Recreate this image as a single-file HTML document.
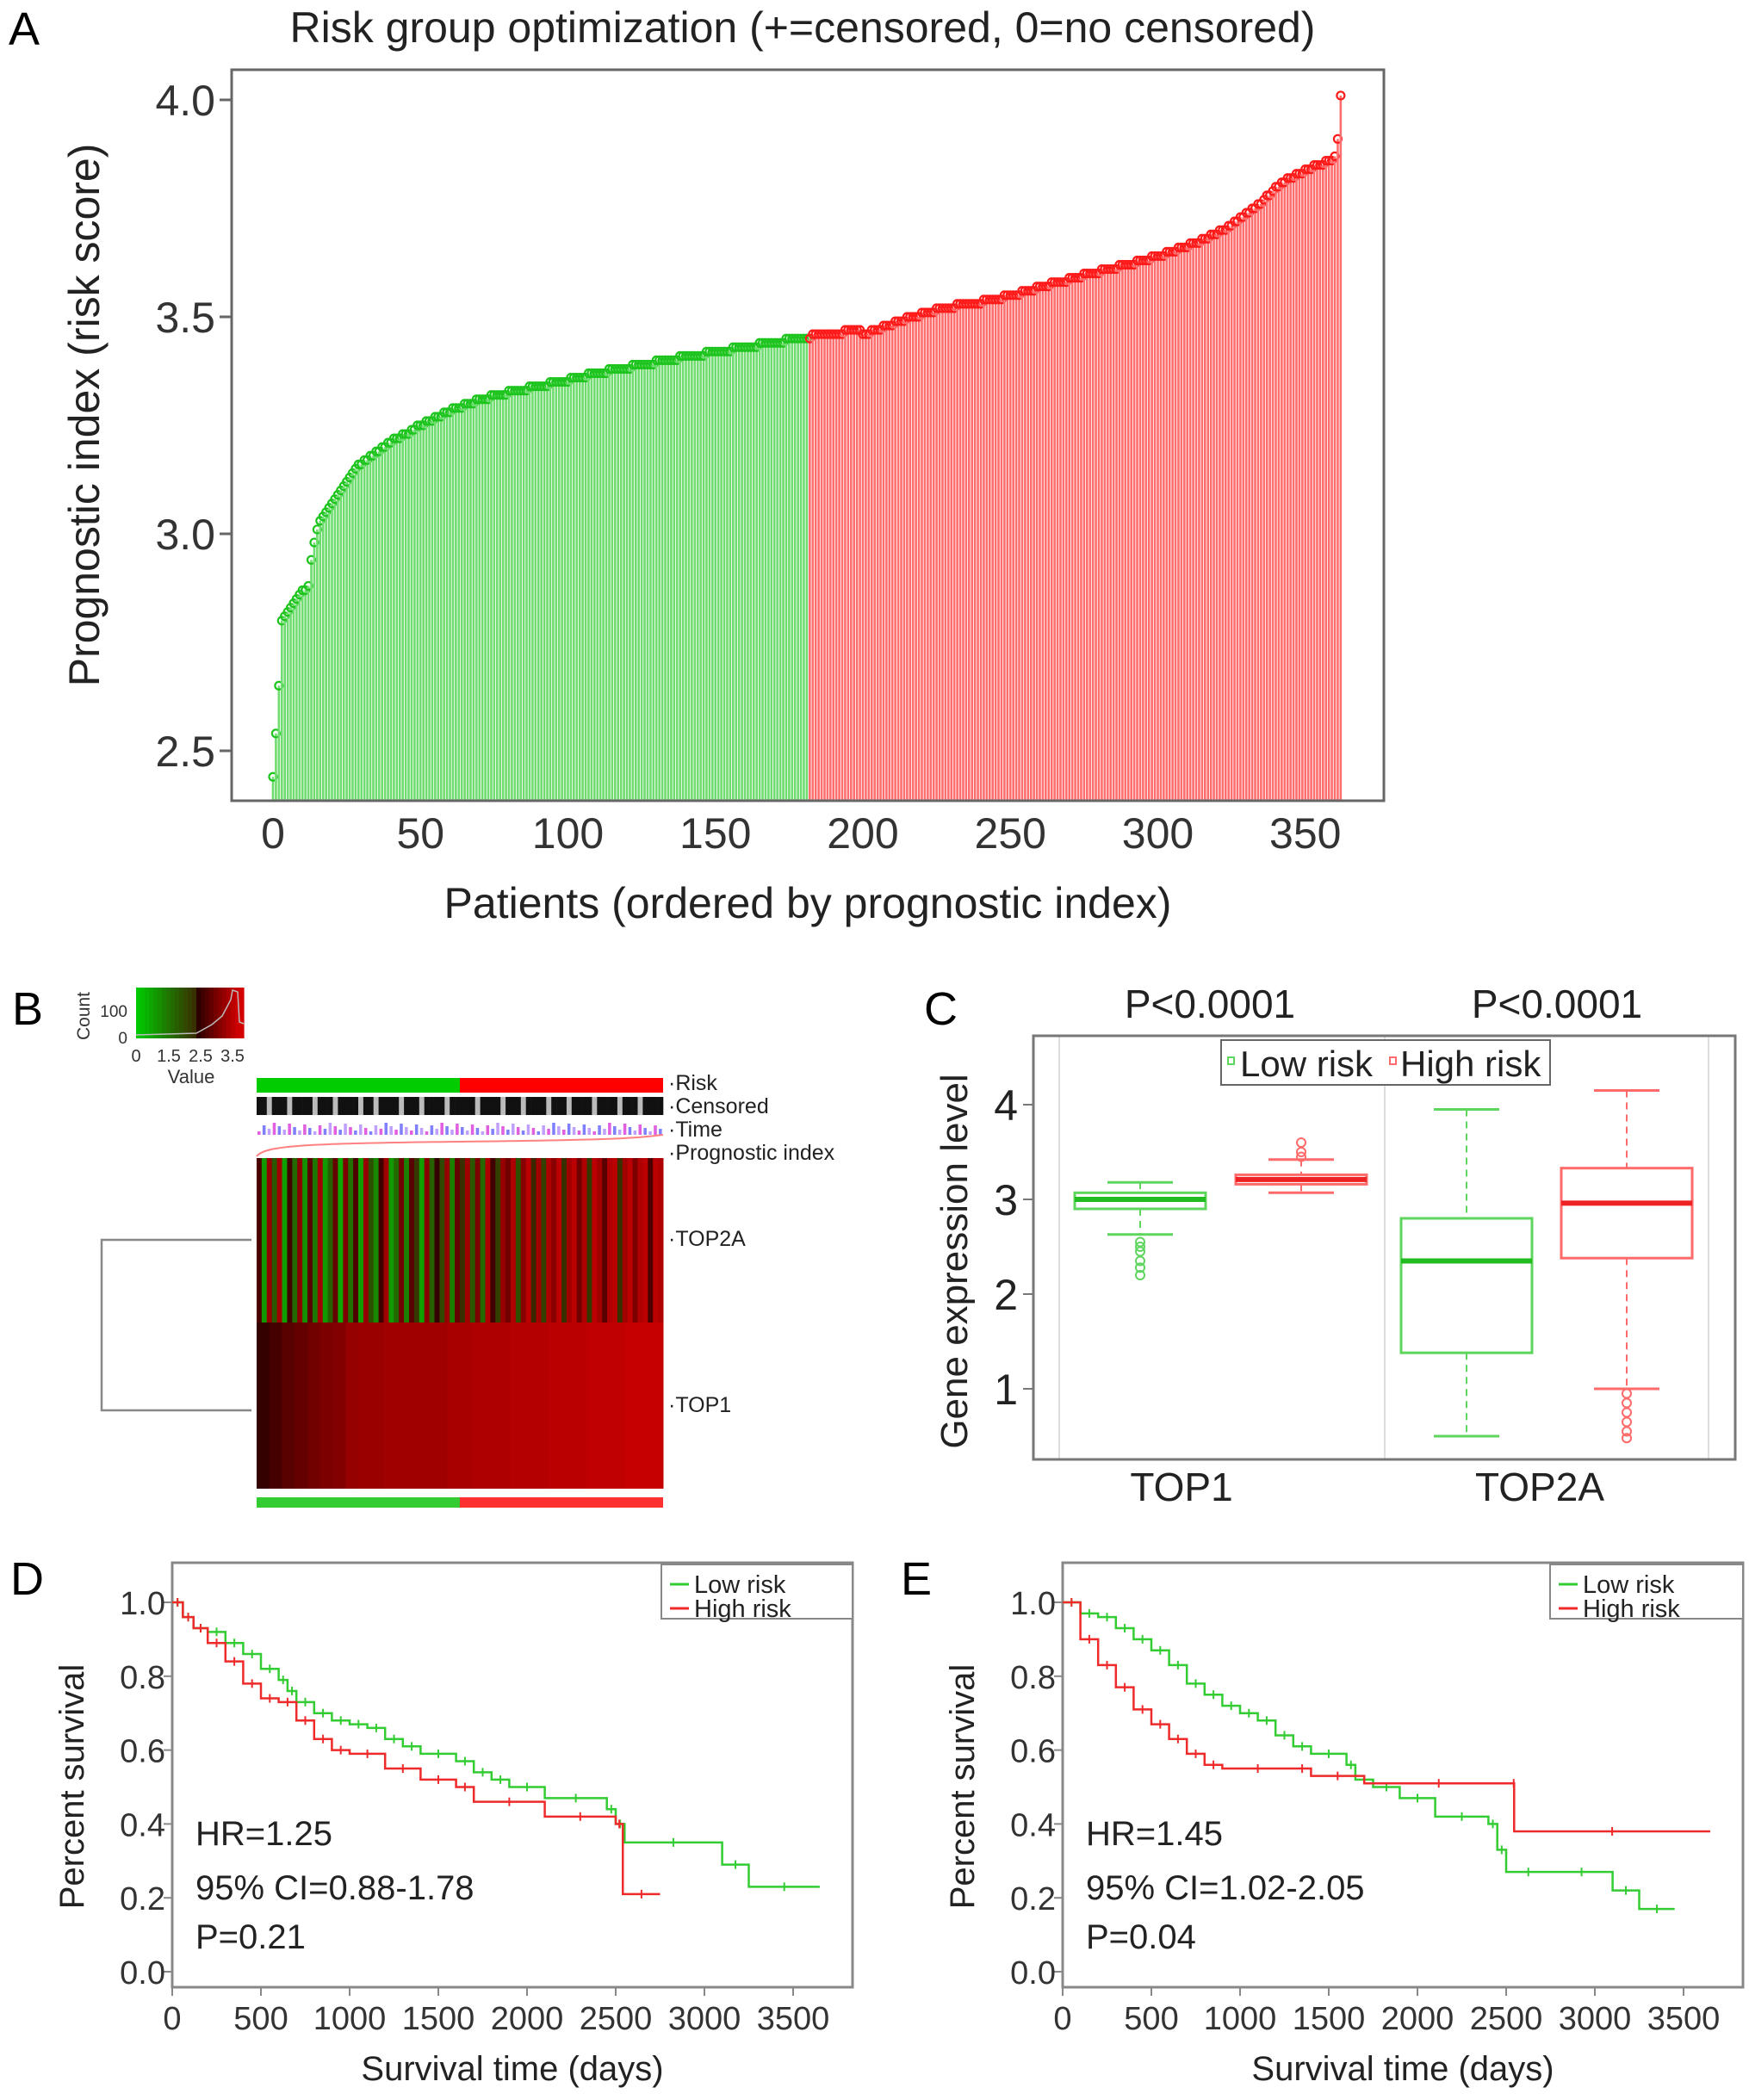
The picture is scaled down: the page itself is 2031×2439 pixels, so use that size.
<!DOCTYPE html>
<html><head><meta charset="utf-8"><style>
html,body{margin:0;padding:0;background:#fff}
svg{display:block;font-family:"Liberation Sans",Arial,sans-serif}
</style></head><body>
<svg id="fig" width="2031" height="2439" viewBox="0 0 2031 2439" xmlns="http://www.w3.org/2000/svg">
<rect width="2031" height="2439" fill="#fff"/>
<g id="pA"></g>
<g id="pB"></g>
<g id="pC"></g>
<g id="pD"></g>
<g id="pE"></g>
</svg>
<script>
// ---------- Panel A data ----------
const riskScores = [
2.44,2.54,2.65,2.80,2.81,2.82,2.83,2.84,2.85,2.86,
2.87,2.87,2.88,2.94,2.98,3.01,3.03,3.04,3.05,3.06,
3.07,3.08,3.09,3.10,3.11,3.12,3.13,3.14,3.15,3.16,
3.16,3.17,3.17,3.18,3.18,3.19,3.19,3.20,3.20,3.21,
3.21,3.22,3.22,3.22,3.23,3.23,3.23,3.24,3.24,3.25,
3.25,3.25,3.26,3.26,3.26,3.27,3.27,3.27,3.28,3.28,
3.28,3.29,3.29,3.29,3.29,3.30,3.30,3.30,3.30,3.31,
3.31,3.31,3.31,3.31,3.32,3.32,3.32,3.32,3.32,3.32,
3.33,3.33,3.33,3.33,3.33,3.33,3.33,3.34,3.34,3.34,
3.34,3.34,3.34,3.34,3.35,3.35,3.35,3.35,3.35,3.35,
3.35,3.36,3.36,3.36,3.36,3.36,3.36,3.37,3.37,3.37,
3.37,3.37,3.37,3.37,3.38,3.38,3.38,3.38,3.38,3.38,
3.38,3.38,3.39,3.39,3.39,3.39,3.39,3.39,3.39,3.39,
3.40,3.40,3.40,3.40,3.40,3.40,3.40,3.40,3.41,3.41,
3.41,3.41,3.41,3.41,3.41,3.41,3.41,3.42,3.42,3.42,
3.42,3.42,3.42,3.42,3.42,3.42,3.43,3.43,3.43,3.43,
3.43,3.43,3.43,3.43,3.43,3.44,3.44,3.44,3.44,3.44,
3.44,3.44,3.44,3.44,3.45,3.45,3.45,3.45,3.45,3.45,
3.45,3.45,3.45,3.46,3.46,3.46,3.46,3.46,3.46,3.46,
3.46,3.46,3.46,3.46,3.47,3.47,3.47,3.47,3.47,3.47,
3.46,3.46,3.46,3.47,3.47,3.47,3.47,3.48,3.48,3.48,
3.48,3.49,3.49,3.49,3.49,3.50,3.50,3.50,3.50,3.50,
3.51,3.51,3.51,3.51,3.51,3.52,3.52,3.52,3.52,3.52,
3.52,3.52,3.53,3.53,3.53,3.53,3.53,3.53,3.53,3.53,
3.53,3.54,3.54,3.54,3.54,3.54,3.54,3.54,3.55,3.55,
3.55,3.55,3.55,3.55,3.56,3.56,3.56,3.56,3.56,3.57,
3.57,3.57,3.57,3.57,3.58,3.58,3.58,3.58,3.58,3.58,
3.59,3.59,3.59,3.59,3.59,3.60,3.60,3.60,3.60,3.60,
3.60,3.61,3.61,3.61,3.61,3.61,3.61,3.62,3.62,3.62,
3.62,3.62,3.62,3.63,3.63,3.63,3.63,3.63,3.64,3.64,
3.64,3.64,3.64,3.65,3.65,3.65,3.65,3.66,3.66,3.66,
3.66,3.67,3.67,3.67,3.67,3.68,3.68,3.68,3.69,3.69,
3.69,3.70,3.70,3.70,3.71,3.71,3.72,3.72,3.73,3.73,
3.74,3.74,3.75,3.75,3.76,3.76,3.77,3.78,3.78,3.79,
3.80,3.80,3.81,3.81,3.82,3.82,3.82,3.83,3.83,3.83,
3.84,3.84,3.84,3.85,3.85,3.85,3.85,3.86,3.86,3.86,
3.87,3.91,4.01];
const riskCutIndex = 182;
const aYTicks = [2.5,3.0,3.5,4.0];
const aYTickLabels = ["2.5","3.0","3.5","4.0"];
const aXTicks = [0,50,100,150,200,250,300,350];

// ---------- Panel B data ----------
const top2aValues = [2.3,0.6,2.9,1.4,3.0,0.5,2.2,1.2,2.8,0.7,2.4,1.0,3.0,0.6,1.3,2.5,0.4,2.7,1.1,2.3,0.5,2.9,1.5,0.8,2.2,3.0,0.6,1.2,2.6,0.9,2.4,1.8,0.5,2.8,1.3,2.1,1.6,2.9,0.9,2.5,1.9,3.0,1.4,2.7,1.2,3.1,2.2,1.7,2.9,2.6,3.1,1.5,2.8,3.2,2.0,3.0,1.7,3.1,2.8,3.2,1.9,3.0,3.2,2.6,3.1,1.8,3.2,3.0,2.4,3.1,3.2,1.9,3.0,3.2,2.7,3.1,3.2,2.3,3.2,3.1];
const top1Values = [2.1,2.25,2.4,2.5,2.6,2.7,2.75,2.9,2.95,2.95,3.0,3.0,3.0,3.0,3.0,3.05,3.05,3.1,3.1,3.1,3.15,3.15,3.15,3.2,3.2,3.2,3.25,3.25,3.25,3.3,3.3,3.3];
const censoredFlags = [1,1,0,1,1,1,0,1,1,1,1,0,1,1,1,0,1,1,1,1,0,1,1,0,1,1,1,1,0,1,1,1,0,1,1,1,1,0,1,1,1,1,1,0,1,1,1,1,0,1,1,1,0,1,1,1,1,0,1,1,1,0,1,1,1,1,0,1,1,1,1,0,1,1,1,0,1,1,1,1];

// ---------- Panel C data ----------
const boxGroups = ["TOP1","TOP2A"];
const boxLow  = [{lo:2.63,q1:2.90,med:3.00,q3:3.07,hi:3.18,out:[2.55,2.5,2.45,2.35,2.28,2.2]},{lo:0.50,q1:1.38,med:2.35,q3:2.80,hi:3.95,out:[]}];
const boxHigh = [{lo:3.07,q1:3.16,med:3.21,q3:3.26,hi:3.42,out:[3.45,3.5,3.6]},{lo:1.00,q1:2.38,med:2.96,q3:3.33,hi:4.15,out:[0.95,0.85,0.75,0.65,0.55,0.48]}];
const cYTicks = [1,2,3,4];
const cPLabels = ["P<0.0001","P<0.0001"];

// ---------- Panels D & E data ----------
const dLowT  = [0,60,120,200,300,400,500,600,650,700,800,900,1000,1100,1200,1300,1400,1600,1700,1800,1900,2100,2450,2500,2550,3100,3250,3650];
const dLowS  = [1,0.96,0.93,0.92,0.89,0.86,0.82,0.79,0.76,0.73,0.70,0.68,0.67,0.66,0.63,0.61,0.59,0.57,0.54,0.52,0.50,0.47,0.44,0.40,0.35,0.29,0.23,0.23];
const dHighT = [0,60,120,200,300,400,500,600,700,800,900,1000,1200,1400,1600,1700,2100,2500,2540,2750];
const dHighS = [1,0.96,0.93,0.89,0.84,0.78,0.74,0.73,0.68,0.63,0.60,0.59,0.55,0.52,0.50,0.46,0.42,0.40,0.21,0.21];
const eLowT  = [0,100,200,300,400,500,600,700,800,900,1000,1100,1200,1300,1400,1600,1650,1750,1900,2100,2400,2450,2500,2750,3100,3250,3450];
const eLowS  = [1,0.97,0.96,0.93,0.90,0.87,0.83,0.78,0.75,0.72,0.70,0.68,0.64,0.61,0.59,0.56,0.52,0.50,0.47,0.42,0.40,0.33,0.27,0.27,0.22,0.17,0.17];
const eHighT = [0,100,200,300,400,500,600,700,800,900,1300,1400,1700,2540,2545,3650];
const eHighS = [1,0.90,0.83,0.77,0.71,0.67,0.63,0.59,0.56,0.55,0.55,0.53,0.51,0.51,0.38,0.38];
const kmXTicks = [0,500,1000,1500,2000,2500,3000,3500];
const kmYTicks = [0,0.2,0.4,0.6,0.8,1.0];

const NS="http://www.w3.org/2000/svg";
function mk(parent,tag,attrs,text){const e=document.createElementNS(NS,tag);for(const k in attrs)e.setAttribute(k,attrs[k]);if(text!==undefined)e.textContent=text;parent.appendChild(e);return e;}

// ================= Panel A =================
(function(){
const g=document.getElementById('pA');
const xA=i=>317+i*3.425, yA=v=>116+(4.0-v)*504, base=930;
let t=mk(g,'text',{x:10,y:52,'font-size':54},'A');

t=mk(g,'text',{x:932,y:49,'font-size':50,'text-anchor':'middle',fill:'#222'},'Risk group optimization (+=censored, 0=no censored)');

riskScores.forEach((v,i)=>{
  const high=i>=riskCutIndex;
  const l=mk(g,'line',{x1:xA(i),x2:xA(i),y1:base,y2:yA(v),stroke:high?'#ff6e6e':'#6edc6e','stroke-width':2.6});
  
  const c=mk(g,'circle',{cx:xA(i),cy:yA(v),r:4.5,fill:'none',stroke:high?'#ff1a1a':'#1ec41e','stroke-width':2.2});
  
});
const fr=mk(g,'rect',{x:269,y:81,width:1338,height:849,fill:'none',stroke:'#666','stroke-width':3});

aYTicks.forEach((v,k)=>{
  mk(g,'line',{x1:255,x2:269,y1:yA(v),y2:yA(v),stroke:'#666','stroke-width':3});
  const tl=mk(g,'text',{x:250,y:yA(v)+18,'font-size':50,'text-anchor':'end',fill:'#333'},aYTickLabels[k]);
  
});
aXTicks.forEach(v=>{
  const tl=mk(g,'text',{x:xA(v),y:985,'font-size':50,'text-anchor':'middle',fill:'#333'},String(v));
  
});
t=mk(g,'text',{x:938,y:1066,'font-size':50,'text-anchor':'middle',fill:'#222'},'Patients (ordered by prognostic index)');

t=mk(g,'text',{x:0,y:0,'font-size':50,'text-anchor':'middle',fill:'#222',transform:'translate(115,482) rotate(-90)'},'Prognostic index (risk score)');

})();

// ================= Panel B =================
(function(){
const g=document.getElementById('pB');
function col(v){ // 0 green -> 2 black -> 3.5 red
  if(v<=2){const f=v/2;return `rgb(${Math.round(60*f)},${Math.round(200*(1-f)+40*f)},0)`;}
  const f=Math.min(1,(v-2)/1.4);return `rgb(${Math.round(40+170*f)},0,0)`;
}
let t=mk(g,'text',{x:14,y:1190,'font-size':54},'B');

const kx=158,kw=125,ky=1147,kh=59;
for(let i=0;i<25;i++){const v=i/24*3.5;mk(g,'rect',{x:kx+i*kw/25,y:ky,width:kw/25+0.6,height:kh,fill:col(v)});}
const ck=mk(g,'polyline',{points:`${kx},${ky+kh-4} ${kx+70},${ky+kh-6} ${kx+88},${ky+kh-16} ${kx+100},${ky+kh-26} ${kx+110},${ky+kh-45} ${kx+112},${ky+3} ${kx+118},${ky+5} ${kx+120},${ky+40} ${kx+125},${ky+42}`,fill:'none',stroke:'#bbb','stroke-width':1.5});

mk(g,'text',{x:148,y:1181,'font-size':19,'text-anchor':'end',fill:'#333'},'100');
mk(g,'text',{x:148,y:1212,'font-size':19,'text-anchor':'end',fill:'#333'},'0');
t=mk(g,'text',{x:0,y:0,'font-size':21,'text-anchor':'middle',fill:'#333',transform:'translate(104,1180) rotate(-90)'},'Count');

[['0',158],['1.5',196],['2.5',233],['3.5',270]].forEach(a=>mk(g,'text',{x:a[1],y:1233,'font-size':20,'text-anchor':'middle',fill:'#333'},a[0]));
t=mk(g,'text',{x:222,y:1258,'font-size':22,'text-anchor':'middle',fill:'#333'},'Value');

const hx=298,hw=472;
mk(g,'rect',{x:hx,y:1252,width:hw/2,height:17,fill:'#00cc00'});
mk(g,'rect',{x:hx+hw/2,y:1252,width:hw/2,height:17,fill:'#ff0000'});
const cw=hw/censoredFlags.length;
censoredFlags.forEach((f,i)=>{const r=mk(g,'rect',{x:hx+i*cw,y:1274,width:cw+0.3,height:21,fill:f?'#111':'#bbb'});});
for(let i=0;i<censoredFlags.length;i++){const h=4+((i*7)%11);mk(g,'rect',{x:hx+i*cw+1,y:1318-h,width:cw*0.6,height:h,fill:i%3==0?'#e060e0':(i%3==1?'#8080ff':'#c0a0ff')});}
mk(g,'path',{d:`M${hx},1343 C${hx+10},1330 ${hx+60},1328 ${hx+236},1326 S${hx+440},1322 ${hx+hw},1318`,fill:'none',stroke:'#ff8080','stroke-width':2});
const w2=hw/top2aValues.length;
top2aValues.forEach((v,i)=>{const r=mk(g,'rect',{x:hx+i*w2,y:1345,width:w2+0.5,height:191,fill:col(v)});});
const w1=hw/top1Values.length;
top1Values.forEach((v,i)=>{const r=mk(g,'rect',{x:hx+i*w1,y:1536,width:w1+0.5,height:193,fill:col(v)});});
mk(g,'rect',{x:hx,y:1739,width:hw/2,height:12,fill:'#33cc33'});
mk(g,'rect',{x:hx+hw/2,y:1739,width:hw/2,height:12,fill:'#ff3030'});
[['Risk',1266],['Censored',1293],['Time',1320],['Prognostic index',1347],['TOP2A',1447],['TOP1',1640]].forEach(a=>{
  const tl=mk(g,'text',{x:776,y:a[1],'font-size':25,fill:'#222'},'·'+a[0]);
  
});
const dd=mk(g,'path',{d:'M292,1440 H118 V1638 H292',fill:'none',stroke:'#888','stroke-width':2.5});

})();

// ================= Panel C =================
(function(){
const g=document.getElementById('pC');
const yC=v=>1283+(4-v)*110;
const centersLow=[1324,1703], centersHigh=[1511,1889], bw=152;
let t=mk(g,'text',{x:1073,y:1190,'font-size':54},'C');

cPLabels.forEach((p,k)=>{const tl=mk(g,'text',{x:[1405,1808][k],y:1182,'font-size':46,'text-anchor':'middle',fill:'#222'},p);});
mk(g,'line',{x1:1230,x2:1230,y1:1203,y2:1695,stroke:'#ddd','stroke-width':2});
mk(g,'line',{x1:1608,x2:1608,y1:1203,y2:1695,stroke:'#ddd','stroke-width':2});
mk(g,'line',{x1:1984,x2:1984,y1:1203,y2:1695,stroke:'#ddd','stroke-width':2});
function box(b,cx,stroke,fillMed){
  const gg=mk(g,'g',{});
  
  mk(gg,'line',{x1:cx,x2:cx,y1:yC(b.hi),y2:yC(b.q3),stroke:stroke,'stroke-width':2,'stroke-dasharray':'8,6'});
  mk(gg,'line',{x1:cx,x2:cx,y1:yC(b.q1),y2:yC(b.lo),stroke:stroke,'stroke-width':2,'stroke-dasharray':'8,6'});
  mk(gg,'line',{x1:cx-bw/4,x2:cx+bw/4,y1:yC(b.hi),y2:yC(b.hi),stroke:stroke,'stroke-width':3});
  mk(gg,'line',{x1:cx-bw/4,x2:cx+bw/4,y1:yC(b.lo),y2:yC(b.lo),stroke:stroke,'stroke-width':3});
  mk(gg,'rect',{x:cx-bw/2,y:yC(b.q3),width:bw,height:yC(b.q1)-yC(b.q3),fill:'none',stroke:stroke,'stroke-width':3});
  mk(gg,'line',{x1:cx-bw/2,x2:cx+bw/2,y1:yC(b.med),y2:yC(b.med),stroke:fillMed,'stroke-width':6});
  b.out.forEach(o=>mk(gg,'circle',{cx:cx,cy:yC(o),r:5,fill:'none',stroke:stroke,'stroke-width':2}));
}
boxLow.forEach((b,k)=>box(b,centersLow[k],'#5ed65e','#22bb22'));
boxHigh.forEach((b,k)=>box(b,centersHigh[k],'#ff6a6a','#ee2222'));
const fr=mk(g,'rect',{x:1200,y:1203,width:815,height:492,fill:'none',stroke:'#777','stroke-width':3});

cYTicks.forEach(v=>{mk(g,'line',{x1:1188,x2:1200,y1:yC(v),y2:yC(v),stroke:'#777','stroke-width':2});
  const tl=mk(g,'text',{x:1182,y:yC(v)+18,'font-size':50,'text-anchor':'end',fill:'#222'},String(v));});
boxGroups.forEach((n,k)=>{const tl=mk(g,'text',{x:[1372,1788][k],y:1743,'font-size':46,'text-anchor':'middle',fill:'#222'},n);});
t=mk(g,'text',{x:0,y:0,'font-size':44,'text-anchor':'middle',fill:'#222',transform:'translate(1123,1465) rotate(-90)'},'Gene expression level');

const lg=mk(g,'g',{});
mk(lg,'rect',{x:1418,y:1208,width:382,height:52,fill:'#fff',stroke:'#666','stroke-width':2});
mk(lg,'rect',{x:1426,y:1228,width:7,height:8,fill:'none',stroke:'#5ed65e','stroke-width':2});
mk(lg,'text',{x:1440,y:1250,'font-size':42,fill:'#222'},'Low risk');
mk(lg,'rect',{x:1614,y:1228,width:7,height:8,fill:'none',stroke:'#ff6a6a','stroke-width':2});
mk(lg,'text',{x:1626,y:1250,'font-size':42,fill:'#222'},'High risk');
})();

// ================= Panels D & E =================
function km(id,letter,x0,low,high,stats,legX){
  const g=document.getElementById(id);
  const xK=d=>x0+d*103/500, yK=s=>2290-s*429;
  let t=mk(g,'text',{x:x0-188,y:1852,'font-size':54},letter);
  
  const fr=mk(g,'rect',{x:x0,y:1815,width:790,height:493,fill:'none',stroke:'#888','stroke-width':3});
  
  kmYTicks.forEach(v=>{mk(g,'line',{x1:x0-10,x2:x0,y1:yK(v),y2:yK(v),stroke:'#888','stroke-width':2});
    const tl=mk(g,'text',{x:x0-8,y:yK(v)+14,'font-size':38,'text-anchor':'end',fill:'#333'},v.toFixed(1));});
  kmXTicks.forEach(v=>{mk(g,'line',{x1:xK(v),x2:xK(v),y1:2308,y2:2318,stroke:'#888','stroke-width':2});
    const tl=mk(g,'text',{x:xK(v),y:2357,'font-size':38,'text-anchor':'middle',fill:'#333'},String(v));});
  function curve(T,S,color,name){
    let d=`M${xK(T[0])},${yK(S[0])}`;
    for(let i=1;i<T.length;i++){d+=` H${xK(T[i])} V${yK(S[i])}`;}
    const p=mk(g,'path',{d:d,fill:'none',stroke:color,'stroke-width':2.5});
    
    for(let i=1;i<T.length;i++){const xm=(xK(T[i-1])+xK(T[i]))/2;mk(g,'line',{x1:xm,x2:xm,y1:yK(S[i-1])-5,y2:yK(S[i-1])+5,stroke:color,'stroke-width':2});}
  }
  curve(low[0],low[1],'#33cc33','km-curve-low-risk');
  curve(high[0],high[1],'#ee2a2a','km-curve-high-risk');
  stats.forEach((s,k)=>{const tl=mk(g,'text',{x:x0+27,y:[2143,2206,2263][k],'font-size':40,fill:'#222'},s);});
  t=mk(g,'text',{x:0,y:0,'font-size':40,'text-anchor':'middle',fill:'#222',transform:`translate(${x0-103},2075) rotate(-90)`},'Percent survival');
  
  t=mk(g,'text',{x:x0+395,y:2416,'font-size':40,'text-anchor':'middle',fill:'#222'},'Survival time (days)');
  
  const lg=mk(g,'g',{});
  mk(lg,'rect',{x:legX,y:1817,width:x0+790-legX,height:63,fill:'#fff',stroke:'#888','stroke-width':2});
  mk(lg,'line',{x1:legX+10,x2:legX+32,y1:1840,y2:1840,stroke:'#33cc33','stroke-width':3});
  mk(lg,'text',{x:legX+38,y:1850,'font-size':29,fill:'#222'},'Low risk');
  mk(lg,'line',{x1:legX+10,x2:legX+32,y1:1868,y2:1868,stroke:'#ee2a2a','stroke-width':3});
  mk(lg,'text',{x:legX+38,y:1878,'font-size':29,fill:'#222'},'High risk');
}
km('pD','D',200,[dLowT,dLowS],[dHighT,dHighS],['HR=1.25','95% CI=0.88-1.78','P=0.21'],768);
km('pE','E',1234,[eLowT,eLowS],[eHighT,eHighS],['HR=1.45','95% CI=1.02-2.05','P=0.04'],1800);
</script>
</body></html>
